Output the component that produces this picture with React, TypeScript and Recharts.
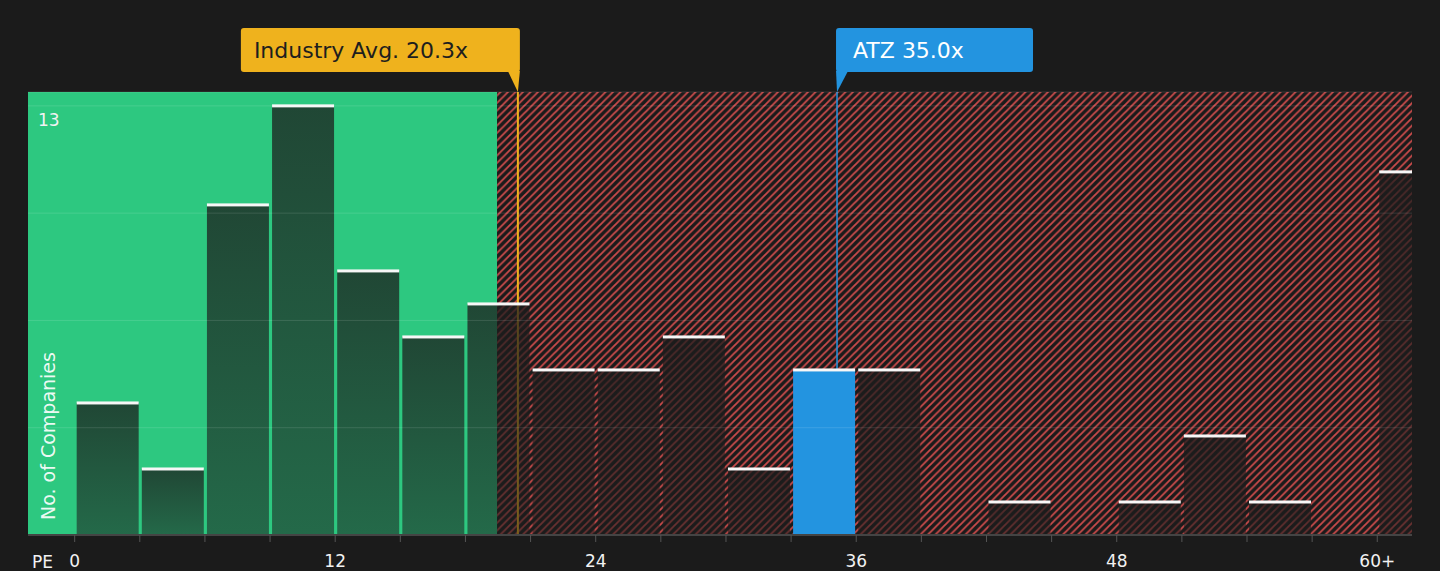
import {
  ComposedChart, Bar, XAxis, YAxis, CartesianGrid,
  ReferenceArea, ReferenceLine,
} from 'recharts'

// PE bins are 3 wide, the last one is "60+"
const BIN_STARTS = [0, 3, 6, 9, 12, 15, 18, 21, 24, 27, 30, 33, 36, 39, 42, 45, 48, 51, 54, 57, 60]
const COUNTS = [4, 2, 10, 13, 8, 6, 7, 5, 5, 6, 2, 5, 5, 0, 1, 0, 1, 3, 1, 0, 11]
const X_TICKS = [0, 3, 6, 9, 12, 15, 18, 21, 24, 27, 30, 33, 36, 39, 42, 45, 48, 51, 54, 57, 60]
const X_LABELS: Record<number, string> = { 0: '0', 12: '12', 24: '24', 36: '36', 48: '48', 60: '60+' }
const Y_TICKS = [0, 3.25, 6.5, 9.75, 13]

const INDUSTRY_AVG = 20.3
const ATZ_PE = 35.0
const FAIR_LIMIT = 19.46
const X_DOMAIN: [number, number] = [-2.15, 61.6]
const Y_DOMAIN: [number, number] = [0, 13.42]

const BIN_WIDTH = 3
const data = BIN_STARTS.map((start, i) => ({ start, mid: start + BIN_WIDTH / 2, count: COUNTS[i] }))

const FONT = '"DejaVu Sans", Verdana, sans-serif'
const BG = '#1b1b1b'
const GREEN = '#2dc880'
const ORANGE = '#efb21d'
const BLUE = '#2394e0'
const LINE_NUDGE = 2.5 // marker lines sit a touch right of the bins in the original

// eslint-disable-next-line @typescript-eslint/no-explicit-any
function BarShape(props: any) {
  const { x, y, width, height, payload } = props
  if (!payload.count || height <= 0) return null
  const isAtz = ATZ_PE >= payload.start && ATZ_PE < payload.start + BIN_WIDTH
  return (
    <g>
      <rect x={x} y={y} width={width} height={height} fill={isAtz ? BLUE : 'url(#barShade)'} />
      <rect x={x} y={y - 1.5} width={width} height={3} fill="#f7f7f7" />
    </g>
  )
}

// eslint-disable-next-line @typescript-eslint/no-explicit-any
function XTick({ x, y, payload }: any) {
  const label = X_LABELS[payload.value]
  if (label === undefined) return null
  return (
    <text x={x} y={y} dy={23} textAnchor="middle" fill="#f2f2f2" fontSize={17} fontFamily={FONT}>
      {label}
    </text>
  )
}

// eslint-disable-next-line @typescript-eslint/no-explicit-any
function YTick({ x, y, payload }: any) {
  if (payload.value !== 13) return null
  return (
    <text x={x} y={y} dx={18} dy={20} textAnchor="start" fill="#f2f2f2" fontSize={17} fontFamily={FONT}>
      {payload.value}
    </text>
  )
}

// eslint-disable-next-line @typescript-eslint/no-explicit-any
function YTitle({ viewBox }: any) {
  const x = viewBox.x + 28
  const y = viewBox.y + viewBox.height - 15
  return (
    <text x={x} y={y} transform={`rotate(-90 ${x} ${y})`} textAnchor="start"
      fill="rgba(255,255,255,0.92)" fontSize={19} fontFamily={FONT}>
      No. of Companies
    </text>
  )
}

// eslint-disable-next-line @typescript-eslint/no-explicit-any
function XTitle({ viewBox }: any) {
  return (
    <text x={viewBox.x + 4} y={viewBox.y + 33} textAnchor="start" fill="#f2f2f2" fontSize={17} fontFamily={FONT}>
      PE
    </text>
  )
}

// eslint-disable-next-line @typescript-eslint/no-explicit-any
function IndustryLabel({ viewBox }: any) {
  const lx = viewBox.x + LINE_NUDGE
  const top = viewBox.y
  return (
    <g>
      <rect x={lx - 277} y={top - 64} width={279} height={44} rx={3} fill={ORANGE} />
      <polygon points={`${lx - 10},${top - 21} ${lx + 2},${top - 21} ${lx},${top}`} fill={ORANGE} />
      <text x={lx - 264} y={top - 34} fill="#1e1e1e" fontSize={22} fontFamily={FONT}>
        Industry Avg. {INDUSTRY_AVG.toFixed(1)}x
      </text>
    </g>
  )
}

// eslint-disable-next-line @typescript-eslint/no-explicit-any
function AtzLabel({ viewBox }: any) {
  const lx = viewBox.x + LINE_NUDGE
  const top = viewBox.y
  return (
    <g>
      <rect x={lx - 1} y={top - 64} width={197} height={44} rx={3} fill={BLUE} />
      <polygon points={`${lx - 1},${top - 21} ${lx + 11},${top - 21} ${lx},${top}`} fill={BLUE} />
      <text x={lx + 16} y={top - 34} fill="#ffffff" fontSize={22} fontFamily={FONT}>
        ATZ {ATZ_PE.toFixed(1)}x
      </text>
    </g>
  )
}

export default function App() {
  return (
    <div style={{ position: 'absolute', left: 0, top: 0, width: 1440, height: 571, background: BG }}>
      <ComposedChart width={1440} height={571} data={data}
        margin={{ top: 92, right: 28, bottom: 0, left: 27 }}>
        <defs>
          <pattern id="hatch" patternUnits="userSpaceOnUse" width={7.5} height={7.5}>
            <rect width={7.5} height={7.5} fill={BG} />
            <path d="M-1,1 l2,-2 M0,7.5 l7.5,-7.5 M6.5,8.5 l2,-2" stroke="#cc4b4b" strokeWidth={1.8} />
          </pattern>
          <linearGradient id="barShade" x1="0" y1="0" x2="0" y2="1">
            <stop offset="0%" stopColor="#1c1c1c" stopOpacity={0.75} />
            <stop offset="100%" stopColor="#1c1c1c" stopOpacity={0.55} />
          </linearGradient>
        </defs>
        <ReferenceArea x1={X_DOMAIN[0]} x2={FAIR_LIMIT} fill={GREEN} fillOpacity={1} zIndex={-300} />
        <ReferenceArea x1={FAIR_LIMIT} x2={X_DOMAIN[1]} fill="url(#hatch)" fillOpacity={1} zIndex={-300} />
        <ReferenceLine x={INDUSTRY_AVG} stroke={ORANGE} strokeWidth={2} zIndex={-200}
          transform={`translate(${LINE_NUDGE},0)`} label={<IndustryLabel />} />
        <ReferenceLine x={ATZ_PE} stroke={BLUE} strokeWidth={1.5} zIndex={-200}
          transform={`translate(${LINE_NUDGE},0)`} label={<AtzLabel />} />
        <XAxis type="number" dataKey="mid" domain={X_DOMAIN} allowDataOverflow ticks={X_TICKS}
          interval={0} height={36} tickSize={7} tick={<XTick />}
          tickLine={{ stroke: '#555' }} axisLine={{ stroke: '#444', strokeWidth: 2 }}
          label={<XTitle />} />
        <YAxis type="number" domain={Y_DOMAIN} ticks={Y_TICKS} width={1}
          axisLine={false} tickLine={false} tick={<YTick />} label={<YTitle />} />
        <Bar dataKey="count" barSize={62} isAnimationActive={false} shape={<BarShape />} />
        <CartesianGrid horizontal vertical={false} stroke="rgba(255,255,255,0.12)" zIndex={350} />
      </ComposedChart>
    </div>
  )
}
